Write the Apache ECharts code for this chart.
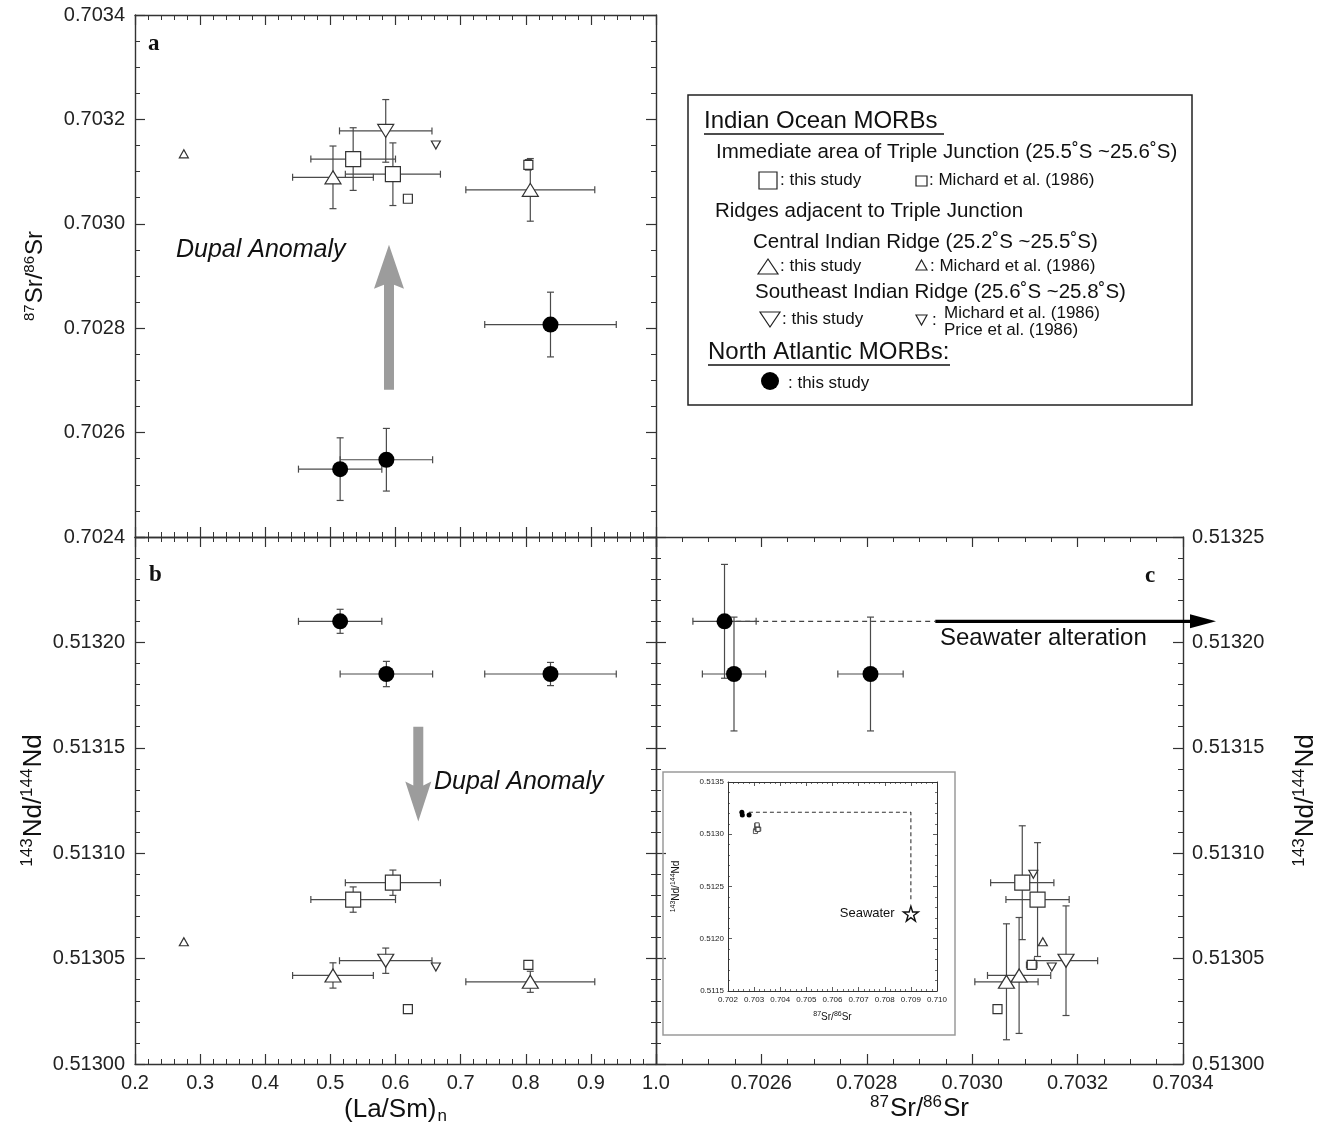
<!DOCTYPE html>
<html>
<head>
<meta charset="utf-8">
<title>Sr-Nd vs (La/Sm)n, Rodriguez Triple Junction MORBs</title>
<script src="https://cdn.jsdelivr.net/npm/echarts@6/dist/echarts.min.js"></script>
<style>
  html, body { margin: 0; padding: 0; background: #fff; }
  #main { width: 1331px; height: 1139px; }
</style>
</head>
<body>
<div id="main"></div>
<script>
// ---- values ----
// Indian Ocean, immediate area of Triple Junction, this study (big squares)
const tjLaSm = [0.535, 0.596]
const tjLaSmErr = [0.065, 0.073]
const tjSr = [0.703124, 0.703095]
const tjSrErr = [0.00006, 0.00006]
const tjNd = [0.513078, 0.513086]
const tjNdErrB = [0.000006, 0.000006]
const tjNdErrC = [0.000027, 0.000027]

// Central Indian Ridge, this study (big triangles)
const cirLaSm = [0.504, 0.807]
const cirLaSmErr = [0.062, 0.099]
const cirSr = [0.703089, 0.703065]
const cirSrErr = [0.00006, 0.00006]
const cirNd = [0.513042, 0.513039]
const cirNdErrB = [0.000006, 0.000005]
const cirNdErrC = [0.0000275, 0.0000275]

// Southeast Indian Ridge, this study (big inverted triangle)
const seirLaSm = [0.585]
const seirLaSmErr = [0.071]
const seirSr = [0.703178]
const seirSrErr = [0.00006]
const seirNd = [0.513049]
const seirNdErrB = [0.000006]
const seirNdErrC = [0.000026]

// North Atlantic MORBs, this study (filled circles)
const naLaSm = [0.515, 0.586, 0.838]
const naLaSmErr = [0.064, 0.071, 0.101]
const naSr = [0.70253, 0.702548, 0.702807]
const naSrErr = [0.00006, 0.00006, 0.000062]
const naNd = [0.51321, 0.513185, 0.513185]
const naNdErrB = [0.0000057, 0.000006, 0.0000055]
const naNdErrC = [0.000027, 0.000027, 0.000027]

// Michard et al. (1986) small squares / triangles, Michard + Price (1986) small inverted triangles
const msqLaSm = [0.619, 0.804]
const msqSr = [0.703048, 0.703113]
const msqSrErr = [0, 0.00001]
const msqNd = [0.513026, 0.513047]
const mtriLaSm = [0.275]
const mtriSr = [0.703134]
const mtriNd = [0.513058]
const minvLaSm = [0.662, null]
const minvSr = [0.703151, 0.703116]
const minvNd = [0.513046, 0.51309]

// seawater (inset) and the dashed path towards it
const seawater = [[0.709, 0.51224]]
const seawaterPathSr = [0.7028, 0.709, 0.709]
const seawaterPathNd = [0.51321, 0.51321, 0.51236]

// annotation anchors in data units
const dupalUpX = 0.59, dupalUpFrom = 0.702682, dupalUpTo = 0.70296
const dupalDownX = 0.635, dupalDownFrom = 0.51316, dupalDownTo = 0.513115
const alterDashFrom = 0.702535, alterArrowFrom = 0.70293, alterNd = 0.51321

const FONT = '"Liberation Sans", Arial, Helvetica, sans-serif'
const INV = 'path://M0,0 L20,0 L10,17 Z'

function rows(xs, xe, ys, ye) {
  const out = []
  xs.forEach((x, i) => {
    if (x == null || ys[i] == null) return
    const dx = xe ? xe[i] : 0
    const dy = ye ? ye[i] : 0
    out.push([x, ys[i], x - dx, x + dx, ys[i] - dy, ys[i] + dy])
  })
  return out
}

function errorBars(params, api) {
  const x = api.value(0), y = api.value(1)
  const xl = api.value(2), xh = api.value(3), yl = api.value(4), yh = api.value(5)
  const cap = 3.5
  const style = { stroke: '#4a4a4a', lineWidth: 1.2, fill: null }
  const kids = []
  const seg = (a, b) => kids.push({ type: 'line', shape: { x1: a[0], y1: a[1], x2: b[0], y2: b[1] }, style })
  if (xh > xl) {
    const p1 = api.coord([xl, y]), p2 = api.coord([xh, y])
    seg(p1, p2)
    seg([p1[0], p1[1] - cap], [p1[0], p1[1] + cap])
    seg([p2[0], p2[1] - cap], [p2[0], p2[1] + cap])
  }
  if (yh > yl) {
    const p1 = api.coord([x, yl]), p2 = api.coord([x, yh])
    seg(p1, p2)
    seg([p1[0] - cap, p1[1]], [p1[0] + cap, p1[1]])
    seg([p2[0] - cap, p2[1]], [p2[0] + cap, p2[1]])
  }
  return { type: 'group', children: kids }
}

const nameRich = {
  t: { fontSize: 24, fontFamily: FONT, color: '#111' },
  sup: { fontSize: 15, fontFamily: FONT, color: '#111', padding: [0, 1, 12, 0] },
  t2: { fontSize: 26, fontFamily: FONT, color: '#111' },
  sup2: { fontSize: 17, fontFamily: FONT, color: '#111', padding: [0, 1, 13, 0] },
  sub2: { fontSize: 17, fontFamily: FONT, color: '#111', padding: [14, 0, 0, 1] },
  ti: { fontSize: 10, fontFamily: FONT, color: '#111' },
  supi: { fontSize: 7, fontFamily: FONT, color: '#111', padding: [0, 0, 5, 0] }
}

function mkAxis(o) {
  const small = !!o.small
  return {
    type: 'value',
    gridIndex: o.grid,
    position: o.pos,
    min: o.min, max: o.max, interval: o.interval,
    name: o.name || '',
    nameLocation: 'middle',
    nameGap: o.nameGap || 0,
    nameRotate: o.nameRotate,
    nameTextStyle: { rich: nameRich },
    axisLine: { show: true, onZero: false, lineStyle: { color: '#333', width: small ? 1 : 1.4 } },
    axisTick: { show: true, inside: true, length: small ? 4 : 10, lineStyle: { color: '#333', width: small ? 0.8 : 1.2 } },
    minorTick: { show: true, splitNumber: o.minor, length: small ? 2 : 5, lineStyle: { color: '#333', width: small ? 0.7 : 1 } },
    splitLine: { show: false },
    minorSplitLine: { show: false },
    axisLabel: o.labels
      ? { show: true, fontFamily: FONT, fontSize: small ? 8 : 20, color: '#222', margin: o.margin, formatter: o.labels, showMinLabel: true, showMaxLabel: true }
      : { show: false }
  }
}

const near = (a, b) => Math.abs(a - b) < 1e-9
const xAxes = [
  mkAxis({ grid: 0, pos: 'bottom', min: 0.2, max: 1.0, interval: 0.1, minor: 5 }),
  mkAxis({ grid: 0, pos: 'top', min: 0.2, max: 1.0, interval: 0.1, minor: 5 }),
  mkAxis({ grid: 1, pos: 'bottom', min: 0.2, max: 1.0, interval: 0.1, minor: 5, labels: v => v.toFixed(1), margin: 9,
    name: '{t2|(La/Sm)}{sub2|n}', nameGap: 30 }),
  mkAxis({ grid: 1, pos: 'top', min: 0.2, max: 1.0, interval: 0.1, minor: 5 }),
  mkAxis({ grid: 2, pos: 'bottom', min: 0.7024, max: 0.7034, interval: 0.0002, minor: 4,
    labels: v => near(v, 0.7024) ? '' : v.toFixed(4), margin: 9, name: '{sup2|87}{t2|Sr/}{sup2|86}{t2|Sr}', nameGap: 30 }),
  mkAxis({ grid: 2, pos: 'top', min: 0.7024, max: 0.7034, interval: 0.0002, minor: 4 }),
  mkAxis({ grid: 3, pos: 'bottom', min: 0.702, max: 0.710, interval: 0.001, minor: 5, small: true,
    labels: v => v.toFixed(3), margin: 5, name: '{supi|87}{ti|Sr/}{supi|86}{ti|Sr}', nameGap: 20 }),
  mkAxis({ grid: 3, pos: 'top', min: 0.702, max: 0.710, interval: 0.001, minor: 5, small: true })
]
const yAxes = [
  mkAxis({ grid: 0, pos: 'left', min: 0.7024, max: 0.7034, interval: 0.0002, minor: 4, labels: v => v.toFixed(4), margin: 10,
    name: '{sup|87}{t|Sr/}{sup|86}{t|Sr}', nameGap: 86, nameRotate: 90 }),
  mkAxis({ grid: 0, pos: 'right', min: 0.7024, max: 0.7034, interval: 0.0002, minor: 4 }),
  mkAxis({ grid: 1, pos: 'left', min: 0.513, max: 0.51325, interval: 0.00005, minor: 5,
    labels: v => near(v, 0.51325) ? '' : v.toFixed(5), margin: 10, name: '{sup2|143}{t2|Nd/}{sup2|144}{t2|Nd}', nameGap: 86, nameRotate: 90 }),
  mkAxis({ grid: 1, pos: 'right', min: 0.513, max: 0.51325, interval: 0.00005, minor: 5 }),
  mkAxis({ grid: 2, pos: 'left', min: 0.513, max: 0.51325, interval: 0.00005, minor: 5 }),
  mkAxis({ grid: 2, pos: 'right', min: 0.513, max: 0.51325, interval: 0.00005, minor: 5, labels: v => v.toFixed(5), margin: 9,
    name: '{sup2|143}{t2|Nd/}{sup2|144}{t2|Nd}', nameGap: 108, nameRotate: 90 }),
  mkAxis({ grid: 3, pos: 'left', min: 0.5115, max: 0.5135, interval: 0.0005, minor: 5, small: true,
    labels: v => v.toFixed(4), margin: 4, name: '{supi|143}{ti|Nd/}{supi|144}{ti|Nd}', nameGap: 46, nameRotate: 90 }),
  mkAxis({ grid: 3, pos: 'right', min: 0.5115, max: 0.5135, interval: 0.0005, minor: 5, small: true })
]

const openStyle = { color: '#fff', borderColor: '#333', borderWidth: 1.2, opacity: 1 }
const series = []
const panelSeries = {}

function scatter(name, axisIdx, data, symbol, size, style, z) {
  series.push({
    name, type: 'scatter', xAxisIndex: axisIdx, yAxisIndex: axisIdx,
    data: data.map(r => [r[0], r[1]]), symbol, symbolSize: size,
    itemStyle: Object.assign({ opacity: 1 }, style), z: z || 4, silent: true
  })
}

// panels: a = (La/Sm)n vs Sr, b = (La/Sm)n vs Nd, c = Sr vs Nd
const panels = [
  { key: 'a', axis: 0,
    tj: rows(tjLaSm, tjLaSmErr, tjSr, tjSrErr), cir: rows(cirLaSm, cirLaSmErr, cirSr, cirSrErr),
    seir: rows(seirLaSm, seirLaSmErr, seirSr, seirSrErr), na: rows(naLaSm, naLaSmErr, naSr, naSrErr),
    msq: rows(msqLaSm, null, msqSr, msqSrErr), mtri: rows(mtriLaSm, null, mtriSr, null), minv: rows(minvLaSm, null, minvSr, null) },
  { key: 'b', axis: 2,
    tj: rows(tjLaSm, tjLaSmErr, tjNd, tjNdErrB), cir: rows(cirLaSm, cirLaSmErr, cirNd, cirNdErrB),
    seir: rows(seirLaSm, seirLaSmErr, seirNd, seirNdErrB), na: rows(naLaSm, naLaSmErr, naNd, naNdErrB),
    msq: rows(msqLaSm, null, msqNd, null), mtri: rows(mtriLaSm, null, mtriNd, null), minv: rows(minvLaSm, null, minvNd, null) },
  { key: 'c', axis: 4,
    tj: rows(tjSr, tjSrErr, tjNd, tjNdErrC), cir: rows(cirSr, cirSrErr, cirNd, cirNdErrC),
    seir: rows(seirSr, seirSrErr, seirNd, seirNdErrC), na: rows(naSr, naSrErr, naNd, naNdErrC),
    msq: rows(msqSr, msqSrErr, msqNd, null), mtri: rows(mtriSr, null, mtriNd, null), minv: rows(minvSr, null, minvNd, null) }
]

panels.forEach(p => {
  panelSeries[p.key] = series.length
  series.push({
    type: 'custom', xAxisIndex: p.axis, yAxisIndex: p.axis, renderItem: errorBars, silent: true, z: 2,
    encode: { x: 0, y: 1 },
    data: [].concat(p.tj, p.cir, p.seir, p.na, p.msq.filter(r => r[3] > r[2] || r[5] > r[4]))
  })
  scatter('msq', p.axis, p.msq, 'rect', 9, openStyle)
  scatter('mtri', p.axis, p.mtri, 'triangle', [9, 8], openStyle)
  scatter('minv', p.axis, p.minv, INV, [9, 8], openStyle)
  scatter('tj', p.axis, p.tj, 'rect', 15, openStyle)
  scatter('cir', p.axis, p.cir, 'triangle', [16, 13], openStyle)
  scatter('seir', p.axis, p.seir, INV, [16, 13], openStyle)
  scatter('na', p.axis, p.na, 'circle', 16, { color: '#000' })
})

// panel c: dashed line from the first N-Atlantic sample towards the seawater arrow
series.push({
  type: 'line', xAxisIndex: 4, yAxisIndex: 4, symbol: 'none', silent: true, z: 1,
  data: [[alterDashFrom, alterNd], [alterArrowFrom, alterNd]],
  lineStyle: { color: '#444', width: 1.2, type: [5, 4] }
})

// inset: whole Sr-Nd range with seawater
panelSeries.inset = series.length
series.push({
  type: 'line', xAxisIndex: 6, yAxisIndex: 6, symbol: 'none', silent: true, z: 2,
  data: seawaterPathSr.map((s, i) => [s, seawaterPathNd[i]]),
  lineStyle: { color: '#333', width: 1.1, type: [4, 3] }
})
const insetOpen = [].concat(rows(tjSr, null, tjNd, null), rows(cirSr, null, cirNd, null), rows(seirSr, null, seirNd, null),
  rows(msqSr, null, msqNd, null), rows(mtriSr, null, mtriNd, null), rows(minvSr, null, minvNd, null))
scatter('inset-open', 6, insetOpen, 'rect', 4, { color: '#fff', borderColor: '#333', borderWidth: 0.8 })
scatter('inset-na', 6, rows(naSr, null, naNd, null), 'circle', 5, { color: '#000' })
series.push({
  type: 'scatter', xAxisIndex: 6, yAxisIndex: 6, silent: true, z: 4,
  data: seawater,
  symbol: 'path://M50,0 L61,35 L98,35 L68,57 L79,91 L50,70 L21,91 L32,57 L2,35 L39,35 Z',
  symbolSize: 15,
  itemStyle: { color: '#fff', borderColor: '#111', borderWidth: 1.4, opacity: 1 },
  label: { show: true, position: 'left', distance: 8, formatter: 'Seawater', fontFamily: FONT, fontSize: 13, color: '#111' }
})

const option = {
  animation: false,
  backgroundColor: '#fff',
  textStyle: { fontFamily: FONT },
  grid: [
    { left: 135, top: 15, width: 521, height: 522 },
    { left: 135, top: 537, width: 521, height: 527 },
    { left: 656, top: 537, width: 527, height: 527 },
    { left: 728, top: 782, width: 209, height: 209 }
  ],
  xAxis: xAxes,
  yAxis: yAxes,
  series
}

const chart = echarts.init(document.getElementById('main'))
chart.setOption(option)

// ---- annotations: arrows, texts, legend box ----
const toPx = (key, pt) => chart.convertToPixel({ seriesIndex: panelSeries[key] }, pt)

function vArrow(tail, tip, shaftW, headW, headL, color) {
  const x = tail[0]
  const dir = tip[1] > tail[1] ? 1 : -1
  const base = tip[1] - dir * headL
  return {
    type: 'polygon', z: 6, silent: true,
    shape: { points: [[x - shaftW / 2, tail[1]], [x - shaftW / 2, base], [x - headW / 2, base - dir * 4], [x, tip[1]],
      [x + headW / 2, base - dir * 4], [x + shaftW / 2, base], [x + shaftW / 2, tail[1]]] },
    style: { fill: color }
  }
}

function txt(text, x, y, size, extra) {
  return {
    type: 'text', z: 6, silent: true,
    style: Object.assign({ text, x, y, fontSize: size, fontFamily: FONT, fill: '#111',
      align: 'left', verticalAlign: 'middle', textAlign: 'left', textVerticalAlign: 'middle' }, extra || {})
  }
}
function hline(x1, x2, y, w) {
  return { type: 'line', z: 6, silent: true, shape: { x1, y1: y, x2, y2: y }, style: { stroke: '#111', lineWidth: w || 1.3 } }
}
const lgStroke = { fill: '#fff', stroke: '#222', lineWidth: 1.2 }
function poly(points) { return { type: 'polygon', z: 6, silent: true, shape: { points }, style: lgStroke } }

const upTail = toPx('a', [dupalUpX, dupalUpFrom])
const upTip = toPx('a', [dupalUpX, dupalUpTo])
const dnTail = toPx('b', [dupalDownX, dupalDownFrom])
const dnTip = toPx('b', [dupalDownX, dupalDownTo])
const alterStart = toPx('c', [alterArrowFrom, alterNd])
const alterEndX = toPx('c', [0.7034, alterNd])[0] + 33

const graphics = [
  vArrow(upTail, upTip, 10, 30, 40, '#9c9c9c'),
  vArrow(dnTail, dnTip, 10, 26, 36, '#9c9c9c'),
  txt('Dupal Anomaly', 176, 250, 25, { fontStyle: 'italic' }),
  txt('Dupal Anomaly', 434, 782, 25, { fontStyle: 'italic' }),
  txt('a', 148, 44, 23, { fontFamily: '"Liberation Serif", "Times New Roman", serif', fontWeight: 'bold' }),
  txt('b', 149, 575, 23, { fontFamily: '"Liberation Serif", "Times New Roman", serif', fontWeight: 'bold' }),
  txt('c', 1145, 576, 23, { fontFamily: '"Liberation Serif", "Times New Roman", serif', fontWeight: 'bold' }),
  // seawater alteration arrow
  { type: 'line', z: 6, silent: true, shape: { x1: alterStart[0], y1: alterStart[1], x2: alterEndX - 22, y2: alterStart[1] },
    style: { stroke: '#000', lineWidth: 3.2 } },
  { type: 'polygon', z: 6, silent: true,
    shape: { points: [[alterEndX - 26, alterStart[1] - 7], [alterEndX, alterStart[1]], [alterEndX - 26, alterStart[1] + 7]] },
    style: { fill: '#000' } },
  txt('Seawater alteration', 940, 638, 24),
  // inset frame
  { type: 'rect', z: 1, silent: true, shape: { x: 663, y: 772, width: 292, height: 263 },
    style: { fill: 'none', stroke: '#9a9a9a', lineWidth: 1.5 } },
  // legend box
  { type: 'rect', z: 6, silent: true, shape: { x: 688, y: 95, width: 504, height: 310 },
    style: { fill: '#fff', stroke: '#222', lineWidth: 1.5 } },
  txt('Indian Ocean MORBs', 704, 121, 24),
  hline(704, 944, 134),
  txt('Immediate area of Triple Junction (25.5˚S ~25.6˚S)', 716, 152, 20.5),
  { type: 'rect', z: 6, silent: true, shape: { x: 759, y: 172, width: 18, height: 17 }, style: lgStroke },
  txt(': this study', 780, 180, 17),
  { type: 'rect', z: 6, silent: true, shape: { x: 916, y: 176, width: 11, height: 10 }, style: lgStroke },
  txt(': Michard et al. (1986)', 929, 180, 17),
  txt('Ridges adjacent to Triple Junction', 715, 211, 20.5),
  txt('Central Indian Ridge (25.2˚S ~25.5˚S)', 753, 242, 20.5),
  poly([[768, 259], [778, 274], [758, 274]]),
  txt(': this study', 780, 266, 17),
  poly([[921.5, 260], [927, 270], [916, 270]]),
  txt(': Michard et al. (1986)', 930, 266, 17),
  txt('Southeast Indian Ridge (25.6˚S ~25.8˚S)', 755, 292, 20.5),
  poly([[760, 312], [780, 312], [770, 327]]),
  txt(': this study', 782, 319, 17),
  poly([[916, 315], [927, 315], [921.5, 325]]),
  txt(':', 932, 320, 17),
  txt('Michard et al. (1986)', 944, 313, 17),
  txt('Price et al. (1986)', 944, 330, 17),
  txt('North Atlantic MORBs:', 708, 352, 24),
  hline(708, 950, 365),
  { type: 'circle', z: 6, silent: true, shape: { cx: 770, cy: 381, r: 9 }, style: { fill: '#000' } },
  txt(': this study', 788, 383, 17)
]

chart.setOption({ graphic: graphics })
</script>
</body>
</html>
